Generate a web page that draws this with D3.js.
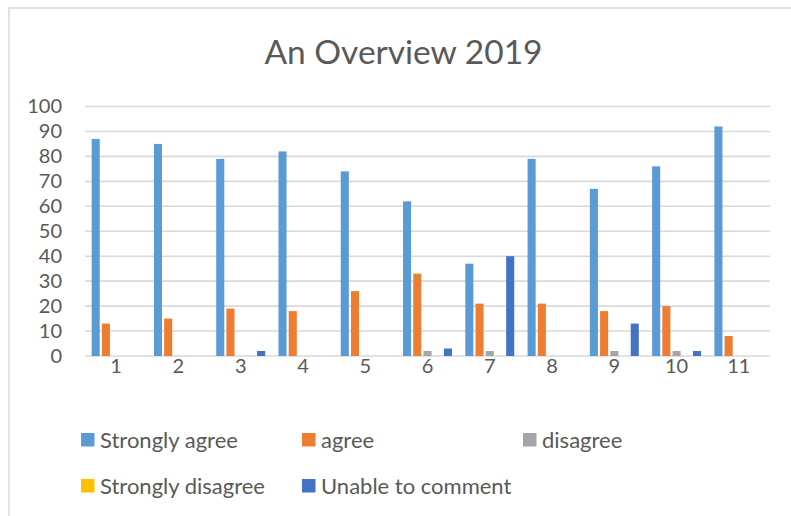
<!DOCTYPE html>
<html>
<head>
<meta charset="utf-8">
<script src="https://cdn.jsdelivr.net/npm/d3@7"></script>
<style>
  html, body { margin: 0; padding: 0; background: #fff; }
  svg { display: block; }
  text { font-family: Lato, "Open Sans", sans-serif; fill: #595959; }
</style>
</head>
<body>
<svg id="chart" width="791" height="516"></svg>
<script>
const categories = ["1", "2", "3", "4", "5", "6", "7", "8", "9", "10", "11"];
const seriesNames = ["Strongly agree", "agree", "disagree", "Strongly disagree", "Unable to comment"];
const seriesColors = ["#5B9BD5", "#ED7D31", "#A5A5A5", "#FFC000", "#4472C4"];
const stronglyAgree    = [87, 85, 79, 82, 74, 62, 37, 79, 67, 76, 92];
const agree            = [13, 15, 19, 18, 26, 33, 21, 21, 18, 20, 8];
const disagree         = [0, 0, 0, 0, 0, 2, 2, 0, 2, 2, 0];
const stronglyDisagree = [0, 0, 0, 0, 0, 0, 0, 0, 0, 0, 0];
const unableToComment  = [0, 0, 2, 0, 0, 3, 40, 0, 13, 2, 0];
const yTicks = [0, 10, 20, 30, 40, 50, 60, 70, 80, 90, 100];
const title = "An Overview 2019";

const seriesValues = [stronglyAgree, agree, disagree, stronglyDisagree, unableToComment];

const svg = d3.select("#chart");

// chart border (extends beyond window at right/bottom)
svg.append("rect")
  .attr("x", 9).attr("y", 8).attr("width", 900).attr("height", 600)
  .attr("fill", "none").attr("stroke", "#D9D9D9").attr("stroke-width", 1.5);

const x0 = d3.scaleBand().domain(categories).range([85, 770]).paddingInner(0.214).paddingOuter(0.107);
const x1 = d3.scaleBand().domain(seriesNames).range([0, x0.bandwidth()]).paddingInner(0.21).paddingOuter(0.0);
const y = d3.scaleLinear().domain([0, 100]).range([356, 106.5]);

// title
svg.append("text")
  .attr("x", 403.5).attr("y", 64)
  .attr("text-anchor", "middle")
  .style("font-size", "33.5px")
  .text(title);

// gridlines
svg.append("g").selectAll("line").data(yTicks).join("line")
  .attr("x1", 85).attr("x2", 770)
  .attr("y1", d => y(d)).attr("y2", d => y(d))
  .attr("stroke", "#D9D9D9").attr("stroke-width", 1.6);

// y axis labels
const yAxis = d3.axisLeft(y).tickValues(yTicks).tickSize(0).tickPadding(0);
const yg = svg.append("g").attr("transform", "translate(62,0)").call(yAxis);
yg.select(".domain").remove();
yg.selectAll("text").style("font-size", "20px").attr("fill", "#595959").style("font-family", "Lato, 'Open Sans', sans-serif");

// x axis labels
const xAxis = d3.axisBottom(x0).tickSize(0).tickPadding(0);
const xg = svg.append("g").attr("transform", "translate(0,355)").call(xAxis);
xg.select(".domain").remove();
xg.selectAll("text").style("font-size", "20px").attr("fill", "#595959").attr("dy", "0.9em").style("font-family", "Lato, 'Open Sans', sans-serif");

// bars
const groups = svg.append("g").selectAll("g").data(categories).join("g")
  .attr("transform", d => `translate(${x0(d)},0)`);
groups.selectAll("rect")
  .data((c, i) => seriesNames.map((s, j) => ({ s, j, v: seriesValues[j][i] })))
  .join("rect")
  .attr("x", d => x1(d.s))
  .attr("width", x1.bandwidth())
  .attr("y", d => y(d.v))
  .attr("height", d => y(0) - y(d.v))
  .attr("fill", d => seriesColors[d.j]);

// legend
const legendPos = [[81, 433], [302, 433], [523, 433], [81, 479], [302, 479]];
const lg = svg.append("g").selectAll("g").data(seriesNames).join("g")
  .attr("transform", (d, i) => `translate(${legendPos[i][0]},${legendPos[i][1]})`);
lg.append("rect").attr("width", 13.5).attr("height", 13.5).attr("fill", (d, i) => seriesColors[i]);
lg.append("text").attr("x", 19).attr("y", 14.5).style("font-size", "22px").text(d => d);
</script>
</body>
</html>
